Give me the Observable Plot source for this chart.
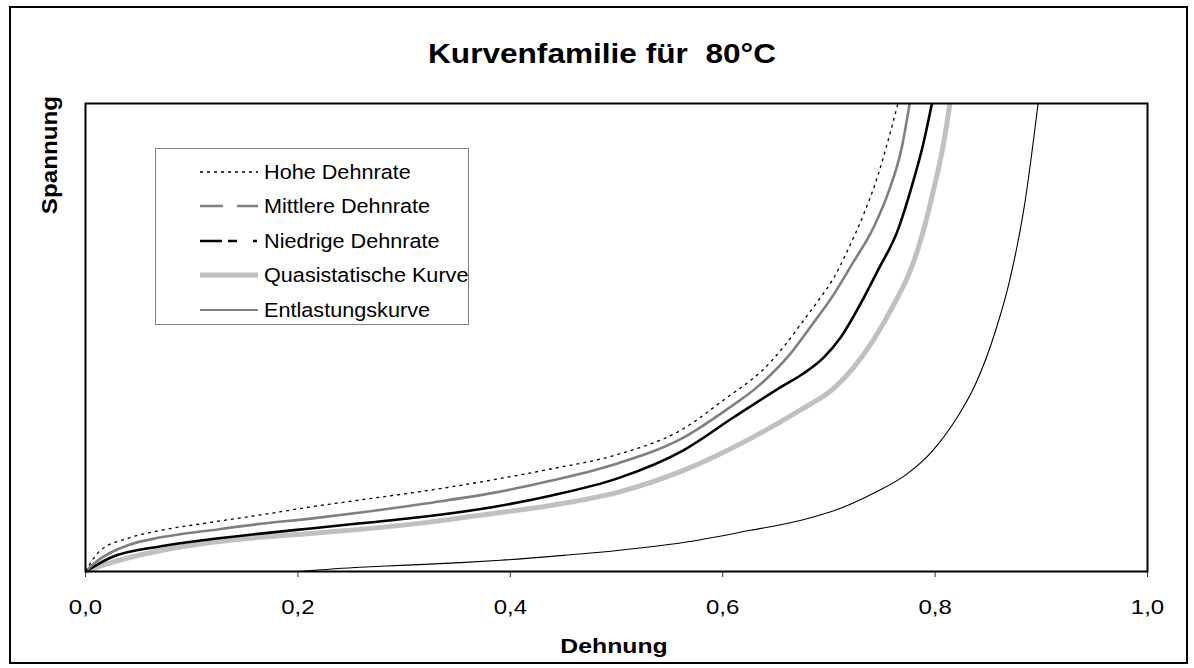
<!DOCTYPE html>
<html><head><meta charset="utf-8">
<script src="https://cdn.jsdelivr.net/npm/d3@7"></script>
<script src="https://cdn.jsdelivr.net/npm/@observablehq/plot@0.6"></script>
<style>
body{margin:0;background:#fff;}
#wrap{position:relative;width:1194px;height:668px;overflow:hidden;font-family:"Liberation Sans",Arial,sans-serif;background:#fff;}
#chart{position:absolute;left:0;top:0;}
.ov{position:absolute;white-space:pre;color:#000;line-height:1;}
</style></head><body>
<div id="wrap">
  <div id="chart"></div>
  <div style="position:absolute;left:9px;top:6px;width:1175px;height:654px;border:2px solid #000;"></div>
  <div class="ov" id="title" style="left:602px;top:41px;font-size:27px;font-weight:bold;transform:translateX(-50%) scaleX(1.17);">Kurvenfamilie für  80°C</div>
  <div class="ov" id="ylab" style="left:50px;top:155px;font-size:22px;font-weight:bold;transform:translate(-50%,-50%) rotate(-90deg) scaleX(1.1);">Spannung</div>
  <div class="ov" id="xlab" style="left:614px;top:635px;font-size:21px;font-weight:bold;transform:translateX(-50%) scaleX(1.18);">Dehnung</div>
  <div id="legend" style="position:absolute;left:155px;top:148px;width:312px;height:175px;border:1px solid #808080;background:#fff;"></div>
</div>
<script>
// ---- data ----
const seriesNames = ["Hohe Dehnrate", "Mittlere Dehnrate", "Niedrige Dehnrate", "Quasistatische Kurve", "Entlastungskurve"];
const xTicks = [0, 0.2, 0.4, 0.6, 0.8, 1.0];

const hohe = [[0,0],[0.005,1.9],[0.014,4.5],[0.040,7.1],[0.071,8.8],[0.118,10.5],[0.165,12.1],[0.212,13.8],[0.259,15.3],[0.322,17.3],[0.384,19.6],[0.438,21.9],[0.501,25.0],[0.563,30.5],[0.603,37.0],[0.626,40.8],[0.637,42.9],[0.657,47.9],[0.676,53.6],[0.692,58.5],[0.704,62.5],[0.718,68.8],[0.733,76.5],[0.746,84.5],[0.755,91.5],[0.765,100]];
const mittlere = [[0,0],[0.008,1.7],[0.040,5.6],[0.071,7.3],[0.118,8.8],[0.165,10.2],[0.212,11.3],[0.259,12.6],[0.322,14.6],[0.384,16.8],[0.438,19.4],[0.501,23.1],[0.563,28.6],[0.605,34.8],[0.633,39.5],[0.664,46.6],[0.685,53.0],[0.704,59.0],[0.720,65.0],[0.742,73.5],[0.756,81.0],[0.769,91.0],[0.776,100]];
const niedrige = [[0,0],[0.024,3.0],[0.071,5.4],[0.118,6.9],[0.165,8.1],[0.212,9.2],[0.259,10.3],[0.322,11.8],[0.384,13.8],[0.438,16.2],[0.501,19.9],[0.563,25.9],[0.610,32.9],[0.657,39.7],[0.676,42.3],[0.695,45.7],[0.711,50.0],[0.730,57.3],[0.746,64.3],[0.765,73.0],[0.777,81.5],[0.789,91.5],[0.797,100]];
const quasi = [[0,0],[0.024,1.9],[0.071,4.5],[0.118,6.2],[0.165,7.3],[0.212,8.1],[0.259,9.0],[0.322,10.5],[0.384,12.4],[0.438,14.1],[0.501,16.9],[0.563,21.6],[0.626,28.4],[0.673,34.5],[0.704,39.0],[0.723,43.5],[0.742,49.5],[0.761,57.0],[0.777,64.5],[0.788,72.0],[0.798,81.0],[0.808,91.5],[0.814,100]];
const entlastung = [[0.2,0],[0.259,0.9],[0.297,1.3],[0.353,1.9],[0.391,2.4],[0.447,3.4],[0.501,4.5],[0.563,6.2],[0.626,8.8],[0.673,10.9],[0.711,13.5],[0.742,16.7],[0.774,20.9],[0.798,25.9],[0.821,33.0],[0.838,40.0],[0.857,51.5],[0.870,62.0],[0.884,78.0],[0.897,100]];

// ---- styles ----
const lineStyles = [
  {stroke:"#000", width:1.3, dash:"3,4", legendDash:"3,4"},
  {stroke:"#808080", width:2.6, dash:null, legendDash:"23,14"},
  {stroke:"#000", width:2.6, dash:null, legendDash:"22,6,9,16,4,10"},
  {stroke:"#c0c0c0", width:5, dash:null, legendDash:null},
  {stroke:"#000", width:1.1, dash:null, legendDash:null}
];
const seriesData = [hohe, mittlere, niedrige, quasi, entlastung];

const fmt = d => d.toFixed(1).replace(".", ",");
const drawOrder = [4, 3, 2, 1, 0];

const plot = Plot.plot({
  width: 1194, height: 668,
  marginLeft: 85, marginRight: 47, marginTop: 103, marginBottom: 97,
  style: {fontFamily: '"Liberation Sans", Arial, sans-serif', fontSize: "20px", background: "transparent", overflow: "visible"},
  x: {domain: [0, 1]},
  y: {domain: [0, 100], axis: null},
  marks: [
    ...drawOrder.map(i => Plot.line(seriesData[i], {
      x: d => d[0], y: d => d[1], curve: "monotone-x",
      stroke: lineStyles[i].stroke, strokeWidth: lineStyles[i].width,
      strokeDasharray: lineStyles[i].dash || undefined, strokeLinecap: "butt", strokeLinejoin: "round"
    })),
    Plot.axisX({ticks: xTicks, tickFormat: fmt, tickSize: 6, tickPadding: 22, fontSize: 20, stroke: "#333", label: null}),
    Plot.frame({stroke: "#000", strokeWidth: 2})
  ]
});
document.getElementById("chart").appendChild(plot);
plot.querySelectorAll('g[aria-label="x-axis tick label"] text').forEach(t => {
  t.setAttribute("transform", (t.getAttribute("transform") || "") + " scale(1.2,1)");
  t.setAttribute("fill", "#000");
});

// ---- legend ----
const rowY = [23, 57, 92, 126, 161];
const leg = d3.select("#legend").append("svg").attr("width", 312).attr("height", 175)
  .style("font-family", '"Liberation Sans", Arial, sans-serif');
seriesNames.forEach((name, i) => {
  const s = lineStyles[i];
  leg.append("line").attr("x1", 44).attr("x2", 102).attr("y1", rowY[i]).attr("y2", rowY[i])
    .attr("stroke", s.stroke).attr("stroke-width", i === 0 ? 1.3 : s.width)
    .attr("stroke-dasharray", s.legendDash);
  leg.append("text").attr("transform", `translate(108,${rowY[i] + 7}) scale(1.11,1)`)
    .attr("font-size", 19.5).attr("fill", "#000").text(name);
});
</script>
</body></html>
